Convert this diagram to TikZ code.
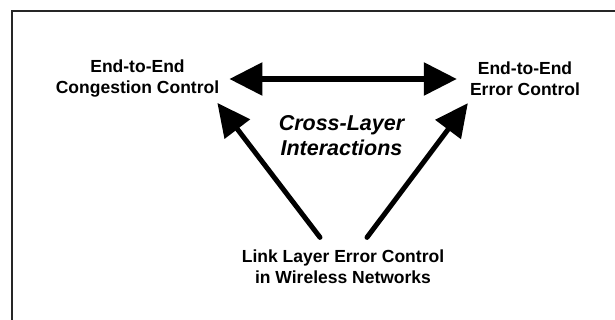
\documentclass[tikz,border=0pt]{standalone}
\usepackage{fontspec}
\setmainfont{Liberation Sans}
\usetikzlibrary{arrows.meta,calc}

\tikzset{
  label/.style={font=\bfseries\fontsize{17.5}{21}\selectfont, align=center, inner sep=0pt},
  crosslabel/.style={font=\bfseries\itshape\fontsize{21.5}{25}\selectfont, align=center, inner sep=0pt},
  bigarrow/.style={line width=5.5pt, {Triangle[length=33pt,width=32pt]}-{Triangle[length=33pt,width=32pt]}},
  uparrow/.style={line width=5pt, line cap=round, -{Triangle[length=33pt,width=31pt]}},
  frame/.style={line width=1.8pt, draw=black!85}
}

\begin{document}
\begin{tikzpicture}[x=1pt, y=-1pt]
  \useasboundingbox (0,0) rectangle (615,320);

  % open frame: top and left edges
  \draw[frame] (12,320) -- (12,11) -- (615,11);

  % the three layers
  \node[label] (cong) at (137.5,79) {End-to-End\\Congestion Control};
  \node[label] (err)  at (525,79)   {End-to-End\\Error Control};
  \node[label] (link) at (343,267)  {Link Layer Error Control\\in Wireless Networks};
  \node[crosslabel] (cross) at (341.5,135.5) {Cross-Layer\\Interactions};

  % interactions between them
  \draw[bigarrow, shorten <=10pt, shorten >=13pt] (cong.east) -- (err.west);

  \coordinate (lt) at ($(link.north)+(-23,-12.5)$);
  \coordinate (rt) at ($(link.north)+(24,-12.5)$);
  \coordinate (lh) at ($(cong.south east)+(-2,5)$);
  \coordinate (rh) at ($(err.south west)+(-2,7)$);
  \draw[uparrow] (lt) -- (lh);
  \draw[uparrow] (rt) -- (rh);
\end{tikzpicture}
\end{document}
